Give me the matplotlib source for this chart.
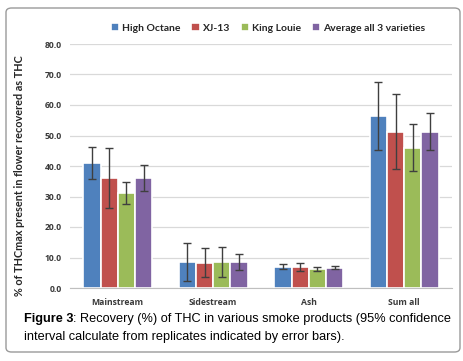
import matplotlib
matplotlib.use("Agg")
import matplotlib.pyplot as plt
import numpy as np
from matplotlib.patches import FancyBboxPatch

categories = ["Mainstream", "Sidestream", "Ash", "Sum all"]
series = ["High Octane", "XJ-13", "King Louie", "Average all 3 varieties"]
high_octane = [41.0, 8.4, 7.0, 56.5]
xj13 = [36.0, 8.3, 6.9, 51.2]
king_louie = [31.0, 8.5, 6.3, 46.0]
average = [36.0, 8.5, 6.7, 51.2]
err_high_octane = [5.1, 6.2, 0.8, 11.2]
err_xj13 = [9.8, 4.7, 1.3, 12.3]
err_king_louie = [3.6, 4.9, 0.65, 7.7]
err_average = [4.2, 2.6, 0.5, 6.1]
yticks = [0, 10, 20, 30, 40, 50, 60, 70, 80]

colors = ["#4F81BD", "#C0504D", "#9BBB59", "#8064A2"]
values = [high_octane, xj13, king_louie, average]
errors = [err_high_octane, err_xj13, err_king_louie, err_average]

W, H = 464, 361
fig = plt.figure(figsize=(W / 100, H / 100), dpi=100, facecolor="white")

# outer rounded border
border = FancyBboxPatch((6 / W, 9 / H), (454 / W), (344 / H),
                        boxstyle="round,pad=0,rounding_size=0.012",
                        transform=fig.transFigure, facecolor="none",
                        edgecolor="#9a9a9a", linewidth=1.0, zorder=0)
fig.patches.append(border)

ax = fig.add_axes([70 / W, (H - 288) / H, 382 / W, (288 - 44) / H])
ax.set_facecolor("none")
x = np.arange(len(categories))
bw = 0.18
for i, (vals, errs, c, name) in enumerate(zip(values, errors, colors, series)):
    pos = x + (i - 1.5) * bw
    ax.bar(pos, vals, width=bw, color=c, edgecolor="white", linewidth=1.2,
           label=name, zorder=2)
    ax.errorbar(pos, vals, yerr=errs, fmt="none", ecolor="#3f3f3f",
                elinewidth=1.0, capsize=3, capthick=1.0, zorder=3)

ax.set_xlim(-0.5, len(categories) - 0.5)
ax.set_ylim(0, 80)
ax.set_yticks(yticks)
ax.set_yticklabels([f"{v:.1f}" for v in yticks])
ax.set_xticks(x)
ax.set_xticklabels(categories)
ax.tick_params(axis="y", length=0, pad=6)
ax.tick_params(axis="x", length=0, pad=7)
for lab in ax.get_xticklabels() + ax.get_yticklabels():
    lab.set_fontfamily("Open Sans")
    lab.set_fontweight("bold")
    lab.set_fontsize(6.2)
    lab.set_color("#3a3a3a")
ax.yaxis.grid(True, color="#d9d9d9", linewidth=0.9, zorder=0)
ax.set_axisbelow(True)
for s in ["top", "right", "left"]:
    ax.spines[s].set_visible(False)
ax.spines["bottom"].set_color("#bfbfbf")

fig.text(20 / W, 1 - 176 / H, "% of THCmax present in flower recovered as THC",
         rotation=90, ha="center", va="center", fontsize=7.8,
         fontweight="bold", family="Lato", color="#262626")

leg = fig.legend(loc="center", bbox_to_anchor=(268 / W, 1 - 28 / H), ncol=4,
                 frameon=False, handlelength=0.8,
                 handleheight=0.8, handletextpad=0.3, columnspacing=1.0,
                 prop={"family": "Lato", "weight": "bold", "size": 7.5})
for t in leg.get_texts():
    t.set_color("#262626")

t1 = fig.text(24 / W, 1 - 319 / H, "Figure 3", fontsize=9.2, fontweight="bold",
              family="Liberation Sans", va="center", ha="left")
fig.canvas.draw()
bb = t1.get_window_extent()
fig.text(bb.x1 / W, 1 - 319 / H,
         ": Recovery (%) of THC in various smoke products (95% confidence",
         fontsize=9.2, family="Liberation Sans", va="center", ha="left")
fig.text(24 / W, 1 - 337 / H,
         "interval calculate from replicates indicated by error bars).",
         fontsize=9.2, family="Liberation Sans", va="center", ha="left")

fig.savefig("out.png", dpi=100)
